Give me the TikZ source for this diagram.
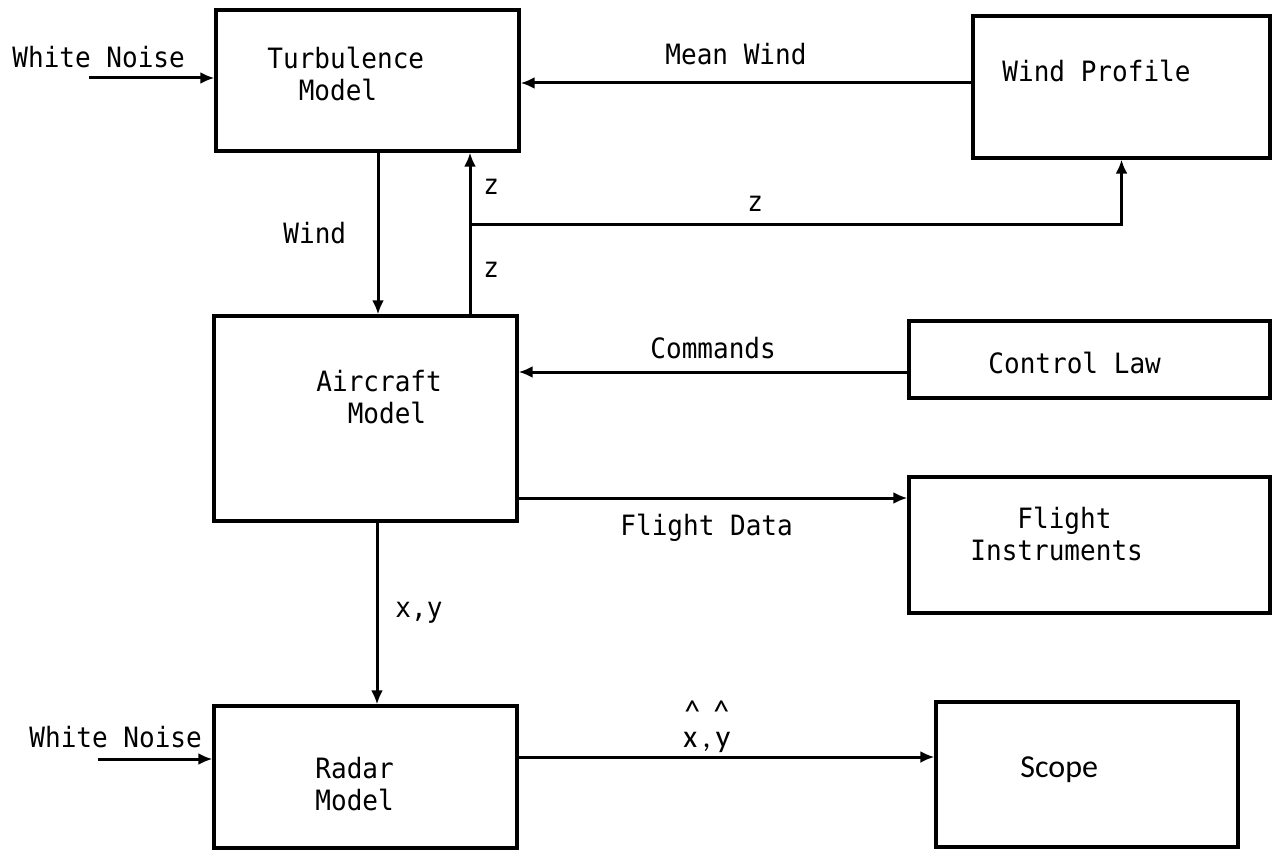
\documentclass[tikz,border=0pt]{standalone}
\usepackage{fontspec}
\usetikzlibrary{arrows.meta,fit}
\newfontfamily\twfont[FakeStretch=0.93]{DejaVu Sans Mono}
\newfontfamily\scopefont{Carlito}

\begin{document}
\begin{tikzpicture}[
  x=0.5pt, y=-0.5pt,
  blk/.style={draw, line width=1.6pt, inner sep=0pt},
  txt/.style={font=\twfont\fontsize{14}{16}\selectfont, inner sep=0pt, anchor=base west, align=left},
  scp/.style={txt, font=\scopefont\fontsize{16}{19}\selectfont},
  arr/.style={-{Latex[length=7pt,width=6pt]}, line width=1.5pt},
]
\useasboundingbox (0,0) rectangle (1272,850);

% ===== blocks =====
\node[blk, fit={(216,10) (519,151)}] (turb) {};
\node[blk, fit={(973,16) (1270,158)}] (wprof) {};
\node[blk, fit={(214,316) (517,521)}] (air) {};
\node[blk, fit={(909,321) (1270,398)}] (ctrl) {};
\node[blk, fit={(909,477) (1270,613)}] (finst) {};
\node[blk, fit={(214,706) (517,848)}] (radar) {};
\node[blk, fit={(936,702) (1238,847)}] (scope) {};

% block texts (base = last line)
\node[txt] (turbT) at (267,101) {Turbulence\\~~Model};
\node[txt] (wprofT) at (1002,82) {Wind Profile};
\node[txt] (airT) at (316,423) {Aircraft\\~~Model};
\node[txt] (ctrlT) at (988,373) {Control Law};
\node[txt] (finstT) at (970,560) {~~~Flight\\Instruments};
\node[txt] (radarT) at (315,810) {Radar\\Model};
\node[scp] (scopeT) at (1020,777) {Scope};

% ===== signal lanes =====
\coordinate (wn1) at (89,78);
\coordinate (wn2) at (98,759);
\coordinate (windx) at (378,0);
\coordinate (zx) at (470,0);
\coordinate (zsplit) at (470,224);
\coordinate (mwy) at (0,83);
\coordinate (cmdy) at (0,372);
\coordinate (fdy) at (0,498);
\coordinate (xyx) at (377,0);
\coordinate (haty) at (0,757);

\draw[arr] (wn1) -- (wn1 -| turb.west);
\draw[arr] (wprof.west |- mwy) -- (turb.east |- mwy);
\draw[arr] (turb.south -| windx) -- (air.north -| windx);
\draw[arr] (air.north -| zx) -- (turb.south -| zx);
\draw[arr] (zsplit) -| (wprof.south);
\draw[arr] (ctrl.west |- cmdy) -- (air.east |- cmdy);
\draw[arr] (air.east |- fdy) -- (finst.west |- fdy);
\draw[arr] (air.south -| xyx) -- (radar.north -| xyx);
\draw[arr] (wn2) -- (wn2 -| radar.west);
\draw[arr] (radar.east |- haty) -- (scope.west |- haty);

% signal labels
\node[txt] (wn1L) at (12,68) {White Noise};
\node[txt] (wn2L) at (29,747) {White Noise};
\node[txt] (mwL) at (665,65) {Mean Wind};
\node[txt] (windL) at (283,243) {Wind};
\node[txt] (z1L) at (483,195) {z};
\node[txt] (z2L) at (483,277) {z};
\node[txt] (z3L) at (747,212) {z};
\node[txt] (cmdL) at (650,358) {Commands};
\node[txt] (fdL) at (620,535) {Flight Data};
\node[txt] (xyL) at (395,617) {x,y};
\node[scp, align=center] (xyhatL) at (683,747)
  {\textasciicircum\hspace{6.5pt}\textasciicircum\\[-6.5pt]x\,,\,y};
\end{tikzpicture}
\end{document}
